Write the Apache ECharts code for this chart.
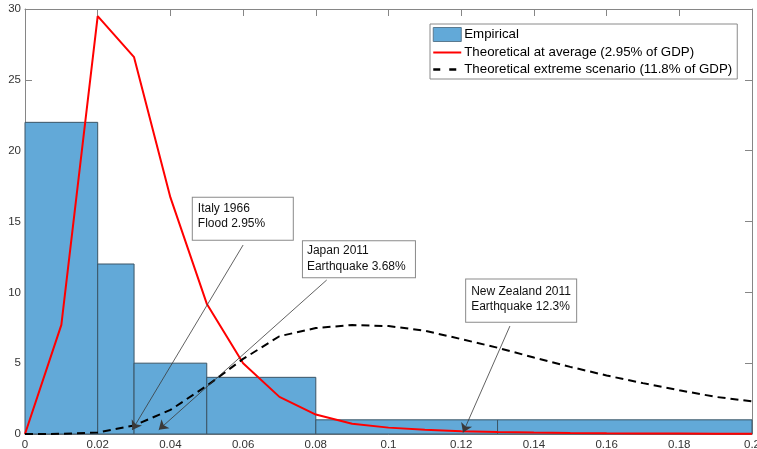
<!DOCTYPE html>
<html>
<head>
<meta charset="utf-8">
<script src="https://cdn.jsdelivr.net/npm/echarts@6/dist/echarts.min.js"></script>
<style>
  html, body { margin: 0; padding: 0; background: #fff; overflow: hidden; }
  #chart { width: 757px; height: 449px; }
</style>
</head>
<body>
<div id="chart"></div>
<script>
// Histogram of losses (share of GDP): bin edges and counts
const binEdges = [0, 0.02, 0.03, 0.05, 0.08, 0.13, 0.2];
const binCounts = [22, 12, 5, 4, 1, 1];

// Grid on which both theoretical densities are evaluated
const lossGrid = [0, 0.01, 0.02, 0.03, 0.04, 0.05, 0.06, 0.07, 0.08, 0.09, 0.1,
                  0.11, 0.12, 0.13, 0.14, 0.15, 0.16, 0.17, 0.18, 0.19, 0.2];
const densityAverage = [0, 7.7, 29.5, 26.6, 16.7, 9.2, 5.0, 2.62, 1.37, 0.73, 0.45,
                        0.3, 0.2, 0.14, 0.1, 0.07, 0.05, 0.04, 0.03, 0.02, 0.02];
const densityExtreme = [0, 0.01, 0.1, 0.6, 1.7, 3.4, 5.3, 6.9, 7.48, 7.69, 7.62,
                        7.29, 6.7, 6.09, 5.4, 4.74, 4.13, 3.59, 3.09, 2.62, 2.3];

// Historical events called out on the chart
const eventLabels = ['Italy 1966\nFlood 2.95%', 'Japan 2011\nEarthquake 3.68%', 'New Zealand 2011\nEarthquake 12.3%'];
const eventShares = [0.0295, 0.0368, 0.123];

const seriesNames = ['Empirical', 'Theoretical at average (2.95% of GDP)', 'Theoretical extreme scenario (11.8% of GDP)'];

// Callout layout (data coordinates): box corner, arrow start, arrow tip, box sizing
const calloutLayout = [
  { box: [0.0463, 16.64], from: [0.0600, 13.34], tip: [0.0295, 0.28], width: 91, lineHeight: 14.5, padding: [4, 4, 9, 5] },
  { box: [0.0766, 13.57], from: [0.0830, 10.87], tip: [0.0368, 0.3], width: 104, lineHeight: 15.5, padding: [2, 4, 3, 4] },
  { box: [0.1215, 10.87], from: [0.1334, 7.62], tip: [0.1205, 0.1], width: 100, lineHeight: 14.6, padding: [5, 5, 8, 5] }
];

const FONT = 'Liberation Sans, Arial, sans-serif';
const AXIS_GREY = '#868686';

const chart = echarts.init(document.getElementById('chart'), null, { renderer: 'canvas' });

const histData = binCounts.map((c, i) => [binEdges[i], binEdges[i + 1], c]);
const avgData = lossGrid.map((x, i) => [x, densityAverage[i]]);
const extData = lossGrid.map((x, i) => [x, densityExtreme[i]]);

const arrowLines = calloutLayout.map(c => [{ coord: c.from }, { coord: c.tip }]);
const calloutBoxes = calloutLayout.map((c, i) => ({
  coord: c.box,
  label: {
    formatter: eventLabels[i],
    width: c.width,
    lineHeight: c.lineHeight,
    padding: c.padding
  }
}));

const xAxisBase = {
  type: 'value', min: 0, max: 0.2, interval: 0.02,
  splitLine: { show: false },
  axisLine: { show: true, onZero: false, lineStyle: { color: AXIS_GREY, width: 1 } },
  axisTick: { show: true, inside: true, length: 7, lineStyle: { color: AXIS_GREY } }
};
const yAxisBase = {
  type: 'value', min: 0, max: 30, interval: 5,
  splitLine: { show: false },
  axisLine: { show: true, onZero: false, lineStyle: { color: AXIS_GREY, width: 1 } },
  axisTick: { show: true, inside: true, length: 7, lineStyle: { color: AXIS_GREY } }
};

chart.setOption({
  animation: false,
  backgroundColor: '#fff',
  grid: { left: 25, right: 5, top: 9, bottom: 15, containLabel: false, outerBoundsMode: 'none' },
  xAxis: [
    Object.assign({}, xAxisBase, {
      position: 'bottom',
      axisLabel: { show: true, margin: 5, color: '#333', fontFamily: FONT, fontSize: 11.5 }
    }),
    Object.assign({}, xAxisBase, { position: 'top', axisLabel: { show: false } })
  ],
  yAxis: [
    Object.assign({}, yAxisBase, {
      position: 'left',
      axisLabel: { show: true, margin: 4, color: '#333', fontFamily: FONT, fontSize: 11.5 }
    }),
    Object.assign({}, yAxisBase, { position: 'right', axisLabel: { show: false } })
  ],
  legend: {
    orient: 'vertical',
    left: 430, top: 24,
    padding: [3, 5, 3, 2],
    itemGap: 4,
    itemWidth: 28, itemHeight: 14,
    backgroundColor: '#fff',
    borderColor: '#8a8a8a', borderWidth: 1, borderRadius: 0,
    textStyle: { fontFamily: FONT, fontSize: 13.3, color: '#000', padding: [0, 0, 0, -2] },
    data: [
      { name: seriesNames[0], icon: 'rect', itemStyle: { borderColor: '#5a7a90', borderWidth: 1 } },
      { name: seriesNames[1], itemStyle: { opacity: 0 } },
      { name: seriesNames[2], itemStyle: { opacity: 0 }, lineStyle: { type: [7, 9], width: 2.5 } }
    ]
  },
  series: [
    {
      name: seriesNames[0],
      type: 'custom',
      data: histData,
      encode: { x: [0, 1], y: 2 },
      itemStyle: { color: '#62a9d8', borderColor: '#34495a', borderWidth: 1 },
      renderItem: function (params, api) {
        const p0 = api.coord([api.value(0), 0]);
        const p1 = api.coord([api.value(1), api.value(2)]);
        return {
          type: 'rect',
          shape: { x: p0[0], y: p1[1], width: p1[0] - p0[0], height: p0[1] - p1[1] },
          style: { fill: '#62a9d8', stroke: '#3b5566', lineWidth: 1 }
        };
      },
      z: 1
    },
    {
      name: seriesNames[1],
      type: 'line',
      data: avgData,
      symbol: 'none',
      lineStyle: { color: '#ff0000', width: 2 },
      itemStyle: { color: '#ff0000' },
      z: 3
    },
    {
      name: seriesNames[2],
      type: 'line',
      data: extData,
      symbol: 'none',
      smooth: false,
      lineStyle: { color: '#000', width: 2, type: [8, 5] },
      itemStyle: { color: '#000' },
      z: 4
    },
    {
      name: 'callouts',
      type: 'scatter',
      data: [],
      silent: true,
      z: 6,
      markLine: {
        silent: true,
        symbol: ['none', 'arrow'],
        symbolSize: 9,
        label: { show: false },
        lineStyle: { color: '#3a3a3a', width: 0.8, type: 'solid' },
        data: arrowLines
      },
      markPoint: {
        silent: true,
        symbol: 'rect',
        symbolSize: 1,
        itemStyle: { color: 'rgba(0,0,0,0)' },
        label: {
          show: true,
          position: [0, 0],
          align: 'left',
          verticalAlign: 'top',
          fontFamily: FONT,
          fontSize: 12,
          color: '#111',
          backgroundColor: '#fff',
          borderColor: '#8a8a8a',
          borderWidth: 1
        },
        data: calloutBoxes
      }
    }
  ]
});
</script>
</body>
</html>
